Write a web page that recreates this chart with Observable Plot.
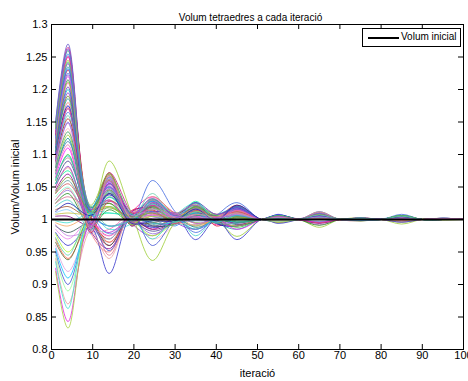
<!DOCTYPE html>
<html><head><meta charset="utf-8">
<script src="https://cdn.jsdelivr.net/npm/d3@7"></script>
<script src="https://cdn.jsdelivr.net/npm/@observablehq/plot@0.6"></script>
<style>
body{margin:0;background:#fff}
#wrap{position:relative;width:468px;height:381px}
#legend{position:absolute;left:362px;top:28px;width:97px;height:17px;border:1px solid #000;background:#fff;font:10px "Liberation Sans Narrow","Liberation Sans",sans-serif;color:#000}
#legend .ln{position:absolute;left:5px;top:8px;width:31px;height:2px;background:#000}
#legend .tx{position:absolute;left:38px;top:2px;white-space:nowrap}
</style></head>
<body><div id="wrap"></div>
<script>
const title = "Volum tetraedres a cada iteració";
const xLabel = "iteració";
const yLabel = "Volum/Volum inicial";
const legendLabel = "Volum inicial";
const refValue = 1;
const xTicks = [0,10,20,30,40,50,60,70,80,90,100];
const xTickLabels = ["0","10","20","30","40","50","60","70","80","90","100"];
const yTicks = [0.8,0.85,0.9,0.95,1,1.05,1.1,1.15,1.2,1.25,1.3];
const yTickLabels = ["0.8","0.85","0.9","0.95","1","1.05","1.1","1.15","1.2","1.25","1.3"];
// iteration positions where each curve's values were read (extrema and crossings)
const iter = [1,4,9.5,14,19.5,24.5,30,35,40,45,51,55,60,65,70,75,80,85,90,95,100];
const volumes = [
[1.150,1.270,1.012,1.060,1.006,1.020,0.994,1.010,1.004,1.008,1.000,1.004,1.001,1.005,1.000,1.002,1.000,1.003,1.000,1.001,1.000],
[1.140,1.265,0.985,1.072,1.010,0.985,1.008,1.015,0.994,0.990,1.000,1.006,1.000,0.996,1.001,1.001,1.000,1.004,1.000,1.002,1.000],
[1.145,1.260,1.020,1.050,0.992,1.030,1.004,0.990,1.007,1.012,1.000,1.003,0.999,1.008,1.000,0.999,1.000,1.002,1.000,1.000,1.000],
[1.135,1.255,0.978,1.065,1.000,1.010,0.990,1.020,1.002,1.015,1.000,0.997,1.000,1.004,1.000,1.002,1.001,1.005,1.000,1.001,1.000],
[1.130,1.250,1.006,0.975,1.012,1.035,1.010,1.005,0.992,0.995,1.000,1.005,1.000,1.010,1.000,1.001,1.000,0.998,1.000,1.000,1.000],
[1.140,1.245,0.994,1.040,0.996,0.990,1.002,1.018,1.008,1.010,1.000,1.002,1.000,0.995,1.000,1.003,1.000,1.004,1.001,1.002,1.000],
[1.125,1.240,1.015,1.068,0.990,1.025,0.996,0.985,1.000,1.020,1.000,1.007,1.001,1.006,1.000,1.000,1.000,1.003,1.000,1.000,1.000],
[1.120,1.235,0.982,1.055,1.008,1.000,1.006,1.012,0.995,0.985,1.000,0.998,1.000,1.009,1.000,1.002,1.000,1.006,1.000,1.001,1.000],
[1.130,1.230,1.004,0.960,1.014,1.015,0.998,1.025,0.990,1.005,1.000,1.004,1.000,1.003,0.999,0.998,1.000,1.002,1.000,1.000,1.000],
[1.115,1.225,1.018,1.045,1.004,1.060,1.012,0.980,1.006,1.026,1.000,1.008,1.000,1.012,1.000,1.003,1.000,1.008,1.000,1.002,1.000],
[1.120,1.220,0.990,1.062,0.994,0.995,0.992,1.008,1.000,1.012,1.000,1.003,1.000,0.992,1.000,1.001,1.000,1.003,1.000,1.001,1.000],
[1.110,1.215,1.008,1.030,1.004,1.028,1.006,1.015,1.004,0.992,1.000,1.000,1.001,1.005,1.000,1.002,1.000,0.996,1.000,1.000,1.000],
[1.115,1.210,0.984,0.985,1.010,1.005,0.996,1.022,1.008,1.015,1.000,1.005,1.000,1.007,1.000,1.000,1.000,1.004,1.000,1.001,1.000],
[1.105,1.200,1.010,1.058,1.000,1.018,1.008,0.995,0.996,1.008,1.000,1.002,1.000,1.004,1.000,1.002,1.000,1.005,1.000,1.000,1.000],
[1.100,1.195,0.996,1.048,0.994,0.975,1.000,1.010,1.002,1.018,1.000,1.006,1.000,1.010,1.000,1.001,1.000,1.002,1.000,1.001,1.000],
[1.105,1.190,1.014,1.070,1.008,1.032,1.010,1.020,1.004,1.005,1.000,0.996,1.000,1.003,1.000,0.999,1.000,1.006,1.000,1.000,1.000],
[1.095,1.180,0.980,0.950,1.012,1.010,0.994,1.002,1.000,1.020,1.000,1.004,1.000,1.006,1.000,1.002,1.000,1.003,1.000,1.001,1.000],
[1.100,1.175,1.006,1.038,1.002,0.988,0.998,1.026,0.994,0.990,1.000,1.007,1.000,0.995,1.000,1.001,1.000,1.005,1.000,1.002,1.000],
[1.090,1.170,1.016,1.052,0.990,1.022,1.006,1.012,1.006,1.014,1.000,1.003,1.000,1.008,1.000,1.003,1.000,1.002,1.000,1.000,1.000],
[1.085,1.160,0.992,1.020,1.004,1.040,0.996,0.992,1.000,1.010,1.000,1.001,1.000,1.004,1.000,1.000,1.000,0.997,1.000,1.000,1.000],
[1.090,1.155,1.002,0.970,1.010,1.000,1.004,1.016,1.004,1.022,1.000,1.005,1.000,1.011,1.000,1.002,1.000,1.004,1.000,1.001,1.000],
[1.080,1.150,1.010,1.064,0.996,1.012,1.000,1.008,0.996,0.996,1.000,1.002,1.000,1.002,1.000,1.001,1.000,1.006,1.000,1.000,1.000],
[1.085,1.140,0.986,1.035,1.006,0.970,0.992,1.018,1.004,1.012,1.000,0.998,1.000,1.006,1.000,0.998,1.000,1.003,1.000,1.001,1.000],
[1.075,1.130,1.004,1.090,1.008,0.937,0.996,1.018,1.002,0.974,1.000,0.996,1.000,0.988,1.000,0.998,1.000,0.993,1.000,0.999,1.000],
[1.070,1.125,0.994,1.044,0.994,1.015,1.006,0.988,1.000,1.008,1.000,1.004,1.000,1.005,1.000,1.002,1.000,1.002,1.000,1.001,1.000],
[1.075,1.120,1.012,0.990,1.004,1.030,1.002,1.020,0.994,1.003,1.000,1.002,1.000,0.996,1.000,1.001,1.000,1.005,1.000,1.000,1.000],
[1.065,1.110,0.986,1.058,1.006,0.995,0.994,1.012,1.006,1.018,1.000,1.006,1.000,1.007,1.000,1.000,1.000,1.003,1.000,1.001,1.000],
[1.060,1.100,1.006,1.025,0.992,1.020,1.004,1.004,1.000,0.988,1.000,0.999,1.000,1.004,1.000,1.002,1.000,1.006,1.000,1.000,1.000],
[1.065,1.095,0.996,0.965,1.010,1.008,1.008,1.024,1.002,1.010,1.000,1.005,1.000,1.012,1.000,1.003,1.000,1.002,1.000,1.002,1.000],
[1.055,1.090,1.014,1.050,1.002,0.982,0.996,1.015,1.004,1.014,1.000,1.003,1.000,1.002,1.000,0.999,1.000,1.004,1.000,1.000,1.000],
[1.050,1.080,0.990,1.068,0.994,1.035,1.008,0.994,0.996,1.006,1.000,1.001,1.000,1.008,1.000,1.001,1.000,0.997,1.000,1.001,1.000],
[1.055,1.075,1.008,1.010,1.006,1.005,1.000,1.028,1.000,1.020,1.000,1.006,1.000,1.005,1.000,1.002,1.000,1.005,1.000,1.000,1.000],
[1.045,1.070,0.982,0.955,1.012,1.018,0.994,1.006,1.006,0.993,1.000,1.004,1.000,0.994,1.000,1.000,1.000,1.003,1.000,1.001,1.000],
[1.040,1.060,1.004,1.042,1.000,0.992,1.006,1.014,1.000,1.015,1.000,1.002,1.000,1.006,1.000,1.002,1.000,1.006,1.000,1.000,1.000],
[1.040,1.055,1.012,1.060,0.992,1.026,1.002,0.985,1.004,1.004,1.000,0.997,1.000,1.003,1.000,1.001,1.000,1.002,1.000,1.000,1.000],
[1.035,1.050,0.992,0.980,1.006,1.012,1.004,1.020,0.996,1.012,1.000,1.005,1.000,1.009,1.000,0.998,1.000,1.004,1.000,1.001,1.000],
[1.030,1.045,1.006,1.028,1.002,0.978,0.996,1.008,1.004,1.020,1.000,1.003,1.000,1.004,1.000,1.002,1.000,1.005,1.000,1.000,1.000],
[1.025,1.040,0.990,1.015,0.996,1.030,1.006,1.002,1.000,0.996,1.000,1.006,1.000,0.991,1.000,1.001,1.000,1.002,1.000,1.001,1.000],
[1.025,1.035,1.010,0.945,1.010,1.010,1.000,1.018,0.994,1.010,1.000,1.002,1.000,1.007,1.000,1.002,1.000,0.996,1.000,1.000,1.000],
[1.020,1.030,0.996,1.035,1.002,0.998,1.008,0.975,1.006,1.016,1.000,1.004,1.000,1.010,1.000,1.000,1.000,1.004,1.000,1.001,1.000],
[1.015,1.020,1.004,1.072,0.990,1.022,0.994,1.012,1.000,1.000,1.000,1.001,1.000,1.003,1.000,1.002,1.000,1.006,1.000,1.000,1.000],
[1.010,1.015,0.986,0.970,1.008,1.000,1.004,1.022,1.002,1.018,1.000,1.005,1.000,1.006,1.000,0.999,1.000,1.003,1.000,1.002,1.000],
[1.008,1.010,1.008,1.020,1.000,1.016,1.006,0.995,0.996,0.990,1.000,0.995,1.000,1.004,1.000,1.001,1.000,1.002,1.000,1.000,1.000],
[1.005,1.005,0.992,1.055,1.006,0.985,0.996,1.010,1.004,1.012,1.000,1.003,1.000,1.008,1.000,1.002,1.000,1.005,1.000,1.001,1.000],
[0.998,0.995,1.008,0.985,0.994,1.028,1.002,1.016,1.000,1.006,1.000,1.006,1.000,0.997,1.000,1.000,1.000,1.004,1.000,1.000,1.000],
[0.995,0.990,1.012,1.045,1.004,1.005,1.006,0.990,1.002,1.014,1.000,1.002,1.000,1.005,1.000,1.002,1.000,0.998,1.000,1.001,1.000],
[0.990,0.980,0.994,0.960,1.010,0.990,0.994,1.020,1.004,1.020,1.000,1.004,1.000,1.010,1.000,1.001,1.000,1.006,1.000,1.000,1.000],
[0.985,0.970,1.006,1.030,0.994,1.034,1.004,1.006,0.996,0.994,1.000,1.000,1.000,1.003,1.000,0.999,1.000,1.002,1.000,1.001,1.000],
[0.980,0.960,0.988,0.917,1.008,1.012,1.008,0.969,1.000,0.969,1.000,0.994,1.000,1.006,1.000,1.002,1.000,1.004,1.000,1.000,1.000],
[0.978,0.950,1.010,1.040,1.002,0.975,0.996,1.012,1.006,1.010,1.000,1.005,1.000,1.008,1.000,1.002,1.000,1.005,1.000,1.000,1.000],
[0.970,0.940,0.994,0.965,1.006,1.020,1.002,1.000,1.000,1.016,1.000,1.002,1.000,0.995,1.000,1.001,1.000,1.003,1.000,1.001,1.000],
[0.965,0.938,1.008,1.025,0.996,0.995,1.006,1.022,0.996,1.004,1.000,1.004,1.000,1.006,1.000,0.998,1.000,1.004,1.000,1.000,1.000],
[0.960,0.920,0.984,0.975,1.010,1.008,0.994,1.008,1.004,1.012,1.000,0.998,1.000,1.004,1.000,1.002,1.000,1.002,1.000,1.001,1.000],
[0.955,0.910,1.012,1.050,1.000,1.030,1.004,0.985,1.000,0.996,1.000,1.006,1.000,1.009,1.000,1.001,1.000,1.006,1.000,1.000,1.000],
[0.950,0.900,0.992,0.952,1.008,0.960,1.000,1.018,1.002,1.018,1.000,1.003,1.000,1.002,1.000,1.000,1.000,0.996,1.000,1.000,1.000],
[0.945,0.890,1.006,1.035,0.994,1.015,1.008,1.010,0.996,1.008,1.000,0.997,1.000,1.007,1.000,1.002,1.000,1.004,1.000,1.001,1.000],
[0.940,0.870,0.982,0.940,1.010,1.000,0.996,0.992,1.004,1.014,1.000,1.005,1.000,1.011,1.000,1.001,1.000,1.003,1.000,1.000,1.000],
[0.935,0.863,1.010,1.010,1.002,0.970,1.006,1.025,1.000,1.002,1.000,1.002,1.000,1.004,1.000,0.999,1.000,1.006,1.000,1.001,1.000],
[0.925,0.843,0.992,0.980,1.006,1.022,1.000,1.005,1.002,0.985,1.000,1.004,1.000,0.996,1.000,1.002,1.000,1.002,1.000,1.000,1.000],
[0.920,0.833,1.006,1.020,0.996,1.005,1.004,1.015,1.000,1.012,1.000,1.000,1.000,1.006,1.000,1.001,1.000,1.005,1.000,1.000,1.000],
[1.150,1.262,0.990,1.055,1.006,1.012,0.996,1.016,1.004,1.006,1.000,1.003,1.000,1.006,1.000,1.002,1.001,1.004,1.000,1.001,1.000],
[1.135,1.252,1.016,1.030,0.994,1.022,1.008,1.004,0.998,1.014,1.000,1.005,0.999,1.002,1.000,1.000,1.000,1.003,1.000,1.000,1.001],
[1.140,1.242,0.984,1.066,1.008,0.996,0.992,1.020,1.006,0.998,1.000,1.001,1.000,1.007,1.001,1.002,1.000,1.002,1.000,1.001,1.000],
[1.125,1.232,1.010,0.990,1.000,1.028,1.004,1.010,0.996,1.016,1.000,1.004,1.000,1.003,1.000,0.999,1.000,1.005,1.000,1.000,1.000],
[1.120,1.222,0.996,1.050,1.012,1.006,1.010,0.994,1.002,1.010,1.000,1.002,1.001,1.008,1.000,1.002,1.000,1.003,1.000,1.001,1.000],
[1.118,1.212,1.022,1.070,0.992,1.018,0.996,1.018,1.000,1.004,1.000,1.006,1.000,1.004,1.000,1.001,1.000,1.006,1.000,1.000,1.000],
[1.110,1.204,0.988,1.040,1.004,0.990,1.002,1.026,1.008,1.018,1.000,1.003,1.000,1.009,1.000,1.002,1.000,1.002,1.000,1.001,1.000],
[1.105,1.186,1.008,1.062,0.998,1.024,1.006,1.008,0.994,0.994,1.000,1.000,1.000,1.005,1.000,1.000,1.000,1.004,1.000,1.000,1.000],
[1.095,1.172,0.980,1.028,1.010,1.014,0.994,1.014,1.004,1.012,1.000,1.005,1.000,1.002,1.000,1.001,1.000,1.003,1.000,1.001,1.000],
[1.092,1.165,1.014,0.978,1.002,1.032,1.000,0.998,1.000,1.020,1.000,1.004,1.000,1.006,1.000,1.002,1.000,1.005,1.000,1.000,1.000],
[1.088,1.148,0.996,1.054,0.994,1.002,1.008,1.022,0.998,1.008,1.000,1.002,1.000,1.010,1.000,1.001,1.000,1.002,1.000,1.001,1.000],
[1.080,1.135,1.018,1.046,1.006,1.020,0.998,1.006,1.006,0.996,1.000,1.006,1.000,1.004,1.000,1.002,1.000,1.006,1.000,1.000,1.000],
[1.072,1.115,0.986,1.066,1.000,1.008,1.004,1.016,1.000,1.014,1.000,1.003,1.000,1.007,1.000,1.000,1.000,1.003,1.000,1.001,1.000],
[1.062,1.098,1.008,1.034,1.008,0.994,0.996,1.010,0.996,1.006,1.000,1.001,1.000,1.003,1.000,1.002,1.000,1.004,1.000,1.000,1.000],
[1.050,1.082,0.994,1.056,0.996,1.026,1.006,1.002,1.002,1.016,1.000,1.005,1.000,1.005,1.000,1.001,1.000,1.002,1.000,1.001,1.000],
[1.042,1.065,1.012,1.018,1.004,1.010,1.000,1.020,1.000,1.002,1.000,1.002,1.000,1.008,1.000,1.002,1.000,1.005,1.000,1.000,1.000],
[1.030,1.048,0.990,1.062,1.002,1.030,1.002,1.008,1.004,1.010,1.000,1.004,1.000,1.002,1.000,1.000,1.000,1.003,1.000,1.001,1.000],
[1.012,1.025,1.006,1.040,0.994,0.998,0.998,1.016,0.998,1.022,1.000,1.001,1.000,1.006,1.000,1.002,1.000,1.004,1.000,1.000,1.000],
[0.992,0.975,0.988,1.048,1.006,1.016,1.004,1.004,1.002,1.008,1.000,1.003,1.000,1.004,1.000,1.001,1.000,1.002,1.000,1.001,1.000],
[0.972,0.945,1.010,0.990,1.000,1.024,0.996,1.012,1.000,1.000,1.000,1.002,1.000,1.007,1.000,1.002,1.000,1.005,1.000,1.000,1.000]
];
const colors = [
"#6a5acd","#c71585","#3cb371","#1e90ff","#ff1493","#9acd32","#8a2be2","#20b2aa","#dc143c","#4169e1",
"#da70d6","#2e8b57","#ff69b4","#00ced1","#9932cc","#6b8e23","#f08080","#0000cd","#ba55d3","#66cdaa",
"#b22222","#7b68ee","#ffb6c1","#9acd32","#008b8b","#4682b4","#ff00ff","#32cd32","#bc8f8f","#483d8b",
"#e9967a","#00fa9a","#8b008b","#5f9ea0","#cd5c5c","#7fffd4","#9370db","#228b22","#db7093","#48d1cc",
"#a0522d","#87cefa","#c0c040","#800080","#40e0d0","#f4a460","#2f4f4f","#ee82ee","#3333cc","#adff2f",
"#ff6347","#556b2f","#dda0dd","#00bfff","#4050d0","#98fb98","#e8a0a0","#40e0d0","#e020e0","#a8d040",
"#7060e0","#d040a0","#50c080","#3080ff","#c060e0","#90c040","#6040c0","#30a0a0","#e04060","#5080e0",
"#b070d0","#40a060","#f070b0","#20c0c0","#a040d0","#80a030","#e09090","#2020b0","#c080e0","#60d0b0"
];

const table = [];
volumes.forEach((row, s) => row.forEach((v, j) => table.push({iter: iter[j], vol: v, s})));

const font = '"Liberation Sans Narrow","Liberation Sans",sans-serif';
const W = 468, H = 381, mT = 24, mB = 32, mL = 51, mR = 5;
const plotH = H - mT - mB, plotW = W - mL - mR, tk = 5;

const chart = Plot.plot({
  width: W, height: H,
  marginTop: mT, marginBottom: mB, marginLeft: mL, marginRight: mR,
  style: {fontFamily: font, fontSize: "11px", background: "#fff", color: "#000"},
  x: {domain: [0, 100]},
  y: {domain: [0.8, 1.3]},
  marks: [
    Plot.line(table, {x: "iter", y: "vol", z: "s", stroke: d => colors[d.s], strokeWidth: 0.8, curve: "catmull-rom"}),
    Plot.ruleY([refValue], {stroke: "#000", strokeWidth: 2}),
    Plot.frame({stroke: "#000"}),
    Plot.tickX(xTicks, {x: d => d, insetTop: plotH - tk, stroke: "#000"}),
    Plot.tickX(xTicks, {x: d => d, insetBottom: plotH - tk, stroke: "#000"}),
    Plot.tickY(yTicks, {y: d => d, insetRight: plotW - tk, stroke: "#000"}),
    Plot.tickY(yTicks, {y: d => d, insetLeft: plotW - tk, stroke: "#000"}),
    Plot.axisX(xTicks, {tickSize: 0, tickPadding: 2, tickFormat: (d, i) => xTickLabels[i], label: xLabel, labelAnchor: "center", labelArrow: "none", labelOffset: 27}),
    Plot.axisY(yTicks, {tickSize: 0, tickPadding: 4, tickFormat: (d, i) => yTickLabels[i], label: yLabel, labelAnchor: "center", labelArrow: "none", labelOffset: 40}),
    Plot.text([title], {frameAnchor: "top", dy: -11, dx: -7, fontSize: 10})
  ]
});
const wrap = document.getElementById("wrap");
wrap.appendChild(chart);
const lg = document.createElement("div");
lg.id = "legend";
lg.innerHTML = '<div class="ln"></div><div class="tx"></div>';
lg.querySelector(".tx").textContent = legendLabel;
wrap.appendChild(lg);
</script>
</body></html>
